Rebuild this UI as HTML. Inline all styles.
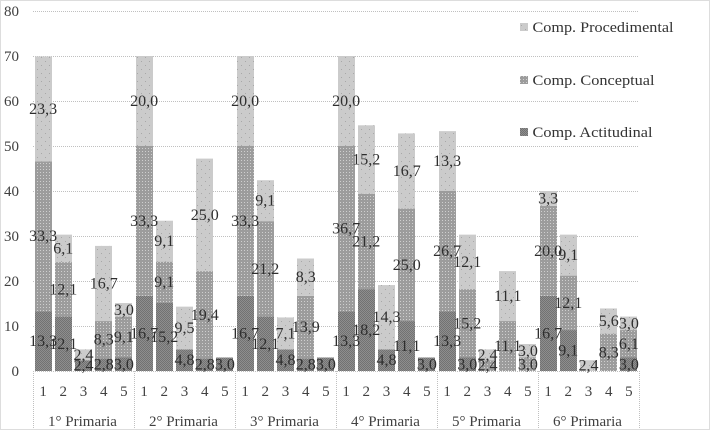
<!DOCTYPE html>
<html>
<head>
<meta charset="utf-8">
<style>
html,body{margin:0;padding:0;background:#fff;width:710px;height:431px;overflow:hidden}
svg{display:block}
text{font-family:"Liberation Serif",serif;fill:#404040}
</style>
</head>
<body>
<svg id="chart" width="710" height="431" viewBox="0 0 710 431" xmlns="http://www.w3.org/2000/svg">
<defs>
<pattern id="pat-proc" width="8" height="8" patternUnits="userSpaceOnUse">
<rect width="8" height="8" fill="#cbcbcb"/>
<rect x="1" y="1" width="1" height="1" fill="#a8a8a8"/>
<rect x="5" y="5" width="1" height="1" fill="#a8a8a8"/>
</pattern>
<pattern id="pat-conc" width="3" height="3" patternUnits="userSpaceOnUse">
<rect width="3" height="3" fill="#9c9c9c"/>
<rect x="1" y="1" width="1" height="1" fill="#cfcfcf"/>
</pattern>
<pattern id="pat-act" width="2" height="2" patternUnits="userSpaceOnUse">
<rect width="2" height="2" fill="#8e8e8e"/>
<rect width="1" height="1" fill="#727272"/>
<rect x="1" y="1" width="1" height="1" fill="#727272"/>
</pattern>
</defs>
<rect x="0.5" y="0.5" width="709" height="429" fill="#fff" stroke="#bbb" stroke-dasharray="1 1"/>
<g id="grid"></g>
<g id="bars"></g>
<g id="labels"></g>
<g id="axis"></g>
<g>
<g>
<rect x="520" y="23" width="8" height="8" fill="url(#pat-proc)"/>
<text x="532.5" y="32" font-size="15" style="fill:#333" textLength="141" lengthAdjust="spacingAndGlyphs">Comp. Procedimental</text>
</g>
<g>
<rect x="520" y="76" width="8" height="8" fill="url(#pat-conc)"/>
<text x="532.5" y="85" font-size="15" style="fill:#333" textLength="122" lengthAdjust="spacingAndGlyphs">Comp. Conceptual</text>
</g>
<g>
<rect x="520" y="128" width="8" height="8" fill="url(#pat-act)"/>
<text x="532.5" y="137" font-size="15" style="fill:#333" textLength="120" lengthAdjust="spacingAndGlyphs">Comp. Actitudinal</text>
</g>
</g>
</svg>
<script>
const groups = ['1° Primaria','2° Primaria','3° Primaria','4° Primaria','5° Primaria','6° Primaria'];
const subCategories = ['1','2','3','4','5'];
const yTicks = [0,10,20,30,40,50,60,70,80];
const actitudinal = [13.3,12.1,2.4,2.8,3.0, 16.7,15.2,4.8,2.8,3.0, 16.7,12.1,4.8,2.8,3.0, 13.3,18.2,4.8,11.1,3.0, 13.3,3.0,0,0,0, 16.7,9.1,0,0,3.0];
const conceptual = [33.3,12.1,0,8.3,9.1, 33.3,9.1,0,19.4,0, 33.3,21.2,0,13.9,0, 36.7,21.2,0,25.0,0, 26.7,15.2,2.4,11.1,3.0, 20.0,12.1,0,8.3,6.1];
const procedimental = [23.3,6.1,2.4,16.7,3.0, 20.0,9.1,9.5,25.0,0, 20.0,9.1,7.1,8.3,0, 20.0,15.2,14.3,16.7,0, 13.3,12.1,2.4,11.1,3.0, 3.3,9.1,2.4,5.6,3.0];

const NS = 'http://www.w3.org/2000/svg';
const plotLeft = 33, groupWidth = 101, barStep = 20.2, barWidth = 17;
const y0 = 371, pxPerUnit = 4.5;
function yScale(v){ return y0 - v * pxPerUnit; }
function xCenter(index){
  const g = Math.floor(index / subCategories.length);
  const b = index % subCategories.length;
  return plotLeft + g * groupWidth + (b + 0.5) * barStep;
}
function make(tag, attrs, parent, text){
  const el = document.createElementNS(NS, tag);
  for (const k in attrs) el.setAttribute(k, attrs[k]);
  if (text !== undefined) el.textContent = text;
  parent.appendChild(el);
  return el;
}
const gridG = document.getElementById('grid');
const barsG = document.getElementById('bars');
const labelsG = document.getElementById('labels');
const axisG = document.getElementById('axis');
const plotRight = plotLeft + groups.length * groupWidth;

yTicks.forEach(function(t){
  const line = make('line', {x1:plotLeft, x2:plotRight, y1:yScale(t)+0.5, y2:yScale(t)+0.5, stroke:'#c0c0c0', 'stroke-dasharray':'1 1'}, gridG);
  
  
  const lab = make('text', {x:19, y:yScale(t)+5, 'text-anchor':'end', 'font-size':15}, axisG, String(t));
  
  
});

const seriesList = [
  {values:actitudinal, fill:'url(#pat-act)'},
  {values:conceptual, fill:'url(#pat-conc)'},
  {values:procedimental, fill:'url(#pat-proc)'}
];
const total = groups.length * subCategories.length;
for (let i = 0; i < total; i++){
  let base = 0;
  seriesList.forEach(function(s){
    const v = s.values[i];
    if (!v) return;
    const top = yScale(base + v);
    const bottom = yScale(base);
    const rect = make('rect', {x:Math.round(xCenter(i) - barWidth/2), y:top, width:barWidth, height:bottom - top, fill:s.fill}, barsG);
    
    
    const lab = make('text', {x:xCenter(i), y:(top + bottom)/2 + 5, 'text-anchor':'middle', 'font-size':16, style:'fill:#2e2e2e'}, labelsG, v.toFixed(1).replace('.', ','));
    
    
    base += v;
  });
}

for (let g = 0; g <= groups.length; g++){
  const x = plotLeft + g * groupWidth + 0.5;
  const sep = make('line', {x1:x, x2:x, y1:y0, y2:429, stroke:'#c0c0c0', 'stroke-dasharray':'1 1'}, axisG);
  
  
}
for (let i = 0; i < total; i++){
  const tick = make('text', {x:xCenter(i), y:396, 'text-anchor':'middle', 'font-size':15}, axisG, subCategories[i % subCategories.length]);
  
  
}
groups.forEach(function(name, g){
  const lab = make('text', {x:plotLeft + (g + 0.5) * groupWidth - 1, y:426, 'text-anchor':'middle', 'font-size':15}, axisG, name);
  
  
});
</script>
</body>
</html>
